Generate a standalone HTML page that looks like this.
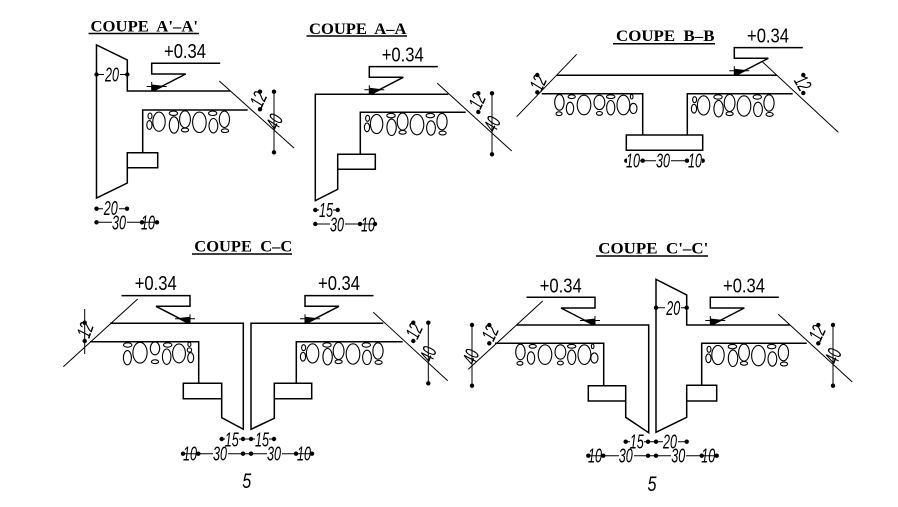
<!DOCTYPE html>
<html><head><meta charset="utf-8"><title>Coupes</title>
<style>
html,body{margin:0;padding:0;background:#fff}
svg{display:block}
.m{fill:none;stroke:#000;stroke-width:1.5}
.s{fill:none;stroke:#000;stroke-width:1}
.b ellipse{fill:none;stroke:#000;stroke-width:1.1}
.t{font:bold 16px "Liberation Serif",serif;fill:#000}
.l{font:20px "Liberation Sans",sans-serif;fill:#000;text-anchor:middle}
.d{font:italic 20px "Liberation Sans",sans-serif;fill:#000;text-anchor:middle}
.f{font:italic 21px "Liberation Sans",sans-serif;fill:#000;text-anchor:middle}
</style></head><body>
<svg width="898" height="507" viewBox="0 0 898 507" xmlns="http://www.w3.org/2000/svg">
<defs>
<g id="L"><path class="m" d="M68.5,-27.7H0V-17H34L3,-1"/><path d="M0,-6.5L13,-5L3,0H0Z" fill="#000"/><path class="s" d="M-5,-4.5H15M0,-9V0"/></g>
<g id="R" class="b">
<ellipse cx="7.3" cy="6" rx="2" ry="3"/><ellipse cx="6.7" cy="15" rx="2.6" ry="4.4"/><ellipse cx="16.3" cy="11.7" rx="6.2" ry="9.6"/><ellipse cx="30.7" cy="3.3" rx="4.2" ry="2.2"/><ellipse cx="31.3" cy="15" rx="4.7" ry="8.2"/><ellipse cx="42.3" cy="9.3" rx="5.4" ry="8.5"/><ellipse cx="42.3" cy="20" rx="3.6" ry="1.9"/><ellipse cx="56.7" cy="12.3" rx="6.8" ry="10.2"/><ellipse cx="70" cy="3.3" rx="4.2" ry="2.2"/><ellipse cx="70.7" cy="15.7" rx="4.4" ry="7.2"/><ellipse cx="81.7" cy="9.3" rx="5.1" ry="8.2"/><ellipse cx="82.3" cy="20.7" rx="3.6" ry="1.9"/>
</g>
<g id="B" class="b">
<ellipse cx="83.3" cy="8.7" rx="4.7" ry="7.8"/><ellipse cx="83.7" cy="20" rx="3" ry="1.9"/><ellipse cx="71" cy="3" rx="3.6" ry="1.9"/><ellipse cx="72.7" cy="14.7" rx="3.7" ry="6.2"/><ellipse cx="58.7" cy="11.3" rx="6.8" ry="9.8"/><ellipse cx="43.3" cy="8.7" rx="5.4" ry="7.2"/><ellipse cx="43.3" cy="19.7" rx="3" ry="1.9"/><ellipse cx="32" cy="3" rx="4.2" ry="1.9"/><ellipse cx="32" cy="14" rx="4.1" ry="7.2"/><ellipse cx="19.3" cy="11.3" rx="6.4" ry="9.8"/><ellipse cx="11" cy="3" rx="1.3" ry="2.3"/><ellipse cx="9.3" cy="14.7" rx="3.6" ry="5.1"/>
</g>
<g id="C" class="b">
<ellipse cx="71" cy="3.3" rx="4.2" ry="2.2"/><ellipse cx="71.3" cy="16" rx="4" ry="7.1"/><ellipse cx="58.7" cy="11" rx="7.1" ry="10.4"/><ellipse cx="43.7" cy="6.7" rx="4.7" ry="6.4"/><ellipse cx="43.7" cy="20" rx="3.6" ry="1.9"/><ellipse cx="31" cy="3.3" rx="4.2" ry="2.2"/><ellipse cx="32" cy="15" rx="4.3" ry="7.7"/><ellipse cx="19.7" cy="11.7" rx="6.4" ry="9.5"/><ellipse cx="9.3" cy="2.7" rx="1.5" ry="2.2"/><ellipse cx="9.3" cy="8.3" rx="2.2" ry="2.2"/><ellipse cx="8" cy="16" rx="3" ry="5"/>
</g>
</defs>

<!-- A'-A' -->
<text class="t" x="90.5" y="31.3" textLength="107.5" lengthAdjust="spacingAndGlyphs" xml:space="preserve">COUPE  A'–A'</text>
<path class="m" d="M88.5,33.5H199"/>
<path class="m" d="M230,91H127.3V60L96.5,45V198L127.3,183V152.7H157.7V167.7H127.3M142.7,152.7V110H247.7"/>
<path class="s" d="M219.3,81L294,148"/>
<use href="#L" x="151.7" y="91"/><use href="#R" x="142.7" y="110"/>
<text class="l" x="185" y="58" textLength="42" lengthAdjust="spacingAndGlyphs">+0.34</text>
<path class="s" d="M96.5,74.5H127.3M274,91.7V152.3M96.5,208.7H127M96.5,222.3H157"/>
<g fill="#000"><circle cx="96.5" cy="74.5" r="2.2"/><circle cx="127.3" cy="74.5" r="2.2"/><circle cx="260" cy="91.7" r="2.2"/><circle cx="260" cy="109.3" r="2.2"/><circle cx="274" cy="91.7" r="2.2"/><circle cx="274" cy="152.3" r="2.2"/><circle cx="96.5" cy="208.7" r="2.2"/><circle cx="127" cy="208.7" r="2.2"/><circle cx="96.5" cy="222.3" r="2.2"/><circle cx="142" cy="222.3" r="2.2"/><circle cx="157" cy="222.3" r="2.2"/></g>
<rect x="104" y="66" width="16" height="16" fill="#fff"/><text class="d" x="112" y="81.7" textLength="14" lengthAdjust="spacingAndGlyphs">20</text>
<rect x="103" y="201" width="16" height="14" fill="#fff"/><text class="d" x="110.7" y="215" textLength="14" lengthAdjust="spacingAndGlyphs">20</text>
<rect x="112" y="216" width="15" height="12" fill="#fff"/><text class="d" x="119" y="229.5" textLength="14" lengthAdjust="spacingAndGlyphs">30</text>
<text class="d" x="148" y="229.5" textLength="14" lengthAdjust="spacingAndGlyphs">10</text>
<text class="d" transform="translate(258.3,99.3) rotate(-65)" y="7" textLength="14" lengthAdjust="spacingAndGlyphs">12</text>
<text class="d" transform="translate(274.3,121.7) rotate(-65)" y="7" textLength="14" lengthAdjust="spacingAndGlyphs">40</text>

<!-- A-A -->
<text class="t" x="309" y="34" textLength="97.5" lengthAdjust="spacingAndGlyphs" xml:space="preserve">COUPE  A–A</text>
<path class="m" d="M306.5,36H407"/>
<path class="m" d="M448.3,94.3H315.3V200.7L337.7,189.3V154.3H375.3V169.3H337.7M360.3,154.3V112.3H465.7"/>
<path class="s" d="M437.3,83.3L511.7,151"/>
<use href="#L" x="369.3" y="94.3"/><use href="#R" x="360.3" y="112.3"/>
<text class="l" x="402.7" y="61.7" textLength="42" lengthAdjust="spacingAndGlyphs">+0.34</text>
<path class="s" d="M492,93.3V154.3M315.3,210H337.7M315.3,224H375"/>
<g fill="#000"><circle cx="478.3" cy="93.3" r="2.2"/><circle cx="478.3" cy="112" r="2.2"/><circle cx="492" cy="93.3" r="2.2"/><circle cx="492" cy="154.3" r="2.2"/><circle cx="315.3" cy="210" r="2.2"/><circle cx="337.7" cy="210" r="2.2"/><circle cx="315.3" cy="224" r="2.2"/><circle cx="360" cy="224" r="2.2"/><circle cx="375" cy="224" r="2.2"/></g>
<rect x="319" y="203" width="14" height="14" fill="#fff"/><text class="d" x="326" y="217" textLength="14" lengthAdjust="spacingAndGlyphs">15</text>
<rect x="330" y="218" width="15" height="12" fill="#fff"/><text class="d" x="337" y="231.5" textLength="14" lengthAdjust="spacingAndGlyphs">30</text>
<text class="d" x="368" y="231.5" textLength="14" lengthAdjust="spacingAndGlyphs">10</text>
<text class="d" transform="translate(477,101) rotate(-65)" y="7" textLength="14" lengthAdjust="spacingAndGlyphs">12</text>
<text class="d" transform="translate(492,124) rotate(-65)" y="7" textLength="14" lengthAdjust="spacingAndGlyphs">40</text>

<!-- B-B -->
<text class="t" x="616" y="41" textLength="98.5" lengthAdjust="spacingAndGlyphs" xml:space="preserve">COUPE  B–B</text>
<path class="m" d="M613,43.7H715"/>
<path class="m" d="M556.7,75.3H776.7M541.7,93.7H642.7V135M687.3,135V93.7H792.7M626.3,135H702.7V150.3H626.3Z"/>
<path class="s" d="M576.7,54.3L516.7,116.7M762.3,61.7L838.3,132.3"/>
<use href="#L" x="734.3" y="75.3"/><use href="#R" x="687.3" y="93.7"/><use href="#B" transform="translate(642.7,93.7) scale(-1,1)"/>
<text class="l" x="768" y="42.3" textLength="42" lengthAdjust="spacingAndGlyphs">+0.34</text>
<path class="s" d="M626.3,160.7H702.7"/>
<g fill="#000"><circle cx="537.3" cy="75" r="2.2"/><circle cx="537.3" cy="92.3" r="2.2"/><circle cx="803.3" cy="75" r="2.2"/><circle cx="803.3" cy="93" r="2.2"/><circle cx="626.3" cy="160.7" r="2.2"/><circle cx="642.7" cy="160.7" r="2.2"/><circle cx="687" cy="160.7" r="2.2"/><circle cx="702.7" cy="160.7" r="2.2"/></g>
<rect x="627" y="154" width="13" height="13" fill="#fff"/><text class="d" x="633" y="167.5" textLength="14" lengthAdjust="spacingAndGlyphs">10</text>
<rect x="656" y="154" width="15" height="13" fill="#fff"/><text class="d" x="663" y="167.5" textLength="14" lengthAdjust="spacingAndGlyphs">30</text>
<rect x="689" y="154" width="13" height="13" fill="#fff"/><text class="d" x="695" y="167.5" textLength="14" lengthAdjust="spacingAndGlyphs">10</text>
<text class="d" transform="translate(538,83) rotate(-65)" y="7" textLength="14" lengthAdjust="spacingAndGlyphs">12</text>
<text class="d" transform="translate(803,83) rotate(60)" y="7" textLength="14" lengthAdjust="spacingAndGlyphs">12</text>

<!-- C-C -->
<text class="t" x="194.3" y="251.7" textLength="98" lengthAdjust="spacingAndGlyphs" xml:space="preserve">COUPE  C–C</text>
<path class="m" d="M192,254H292"/>
<path class="m" d="M110,323.3H243.3V429.3L221.7,417.7V383.3H183.3V398.7H221.7M198.7,383.3V341.7H90"/>
<path class="m" d="M383.3,323.3H251V429.3L274.3,418.3V383.3H311.7V398.7H274.3M296.3,383.3V341.7H402.7"/>
<path class="s" d="M137.7,299L63.3,366.7M373.3,312.3L447.7,380.7M84.7,309V354"/>
<use href="#L" transform="translate(190,323.3) scale(-1,1)"/><use href="#L" x="305" y="323.3"/>
<use href="#C" transform="translate(198.7,341.7) scale(-1,1)"/><use href="#R" x="296.3" y="341.7"/>
<text class="l" x="155.7" y="290" textLength="42" lengthAdjust="spacingAndGlyphs">+0.34</text>
<text class="l" x="339" y="290" textLength="42" lengthAdjust="spacingAndGlyphs">+0.34</text>
<path class="s" d="M221.7,439H274M183,453.7H312M428.3,322.7V383.3"/>
<g fill="#000"><circle cx="84.7" cy="322.7" r="2.2"/><circle cx="84.7" cy="341" r="2.2"/><circle cx="413.3" cy="322.7" r="2.2"/><circle cx="413.3" cy="341" r="2.2"/><circle cx="428.3" cy="322.7" r="2.2"/><circle cx="428.3" cy="383.3" r="2.2"/><circle cx="221.7" cy="439" r="2.2"/><circle cx="243" cy="439" r="2.2"/><circle cx="251" cy="439" r="2.2"/><circle cx="274" cy="439" r="2.2"/><circle cx="183" cy="453.7" r="2.2"/><circle cx="198.3" cy="453.7" r="2.2"/><circle cx="243" cy="453.7" r="2.2"/><circle cx="251" cy="453.7" r="2.2"/><circle cx="296" cy="453.7" r="2.2"/><circle cx="312" cy="453.7" r="2.2"/></g>
<rect x="225" y="432" width="14" height="14" fill="#fff"/><text class="d" x="231.7" y="446.5" textLength="14" lengthAdjust="spacingAndGlyphs">15</text>
<rect x="255" y="432" width="14" height="14" fill="#fff"/><text class="d" x="262" y="446.5" textLength="14" lengthAdjust="spacingAndGlyphs">15</text>
<text class="d" x="190" y="460.5" textLength="14" lengthAdjust="spacingAndGlyphs">10</text>
<rect x="213" y="447" width="15" height="13" fill="#fff"/><text class="d" x="220" y="460.5" textLength="14" lengthAdjust="spacingAndGlyphs">30</text>
<rect x="267" y="447" width="15" height="13" fill="#fff"/><text class="d" x="274" y="460.5" textLength="14" lengthAdjust="spacingAndGlyphs">30</text>
<text class="d" x="304" y="460.5" textLength="14" lengthAdjust="spacingAndGlyphs">10</text>
<text class="f" x="246.7" y="488" textLength="9" lengthAdjust="spacingAndGlyphs">5</text>
<text class="d" transform="translate(85,330) rotate(-70)" y="7" textLength="14" lengthAdjust="spacingAndGlyphs">12</text>
<text class="d" transform="translate(414,331) rotate(-65)" y="7" textLength="14" lengthAdjust="spacingAndGlyphs">12</text>
<text class="d" transform="translate(428,354) rotate(-70)" y="7" textLength="14" lengthAdjust="spacingAndGlyphs">40</text>

<!-- C'-C' -->
<text class="t" x="598.3" y="253.3" textLength="110" lengthAdjust="spacingAndGlyphs" xml:space="preserve">COUPE  C'–C'</text>
<path class="m" d="M596,256H708"/>
<path class="m" d="M516.7,325H648.7V432.7L625.7,417.3V385.7H588.3V401H625.7M603.7,385.7V343.3H495"/>
<path class="m" d="M790,325H686.7V295L656,279.3V432.3L686.7,417.3V385.3H716.7V401H686.7M701.7,385.3V343.3H806.7"/>
<path class="s" d="M542.7,301L468.3,369.3M778.3,314.3L852.3,382"/>
<use href="#L" transform="translate(595,325) scale(-1,1)"/><use href="#L" x="710.3" y="325"/>
<use href="#B" transform="translate(603.7,343.3) scale(-1,1)"/><use href="#R" x="701.7" y="343.3"/>
<text class="l" x="560.7" y="292.3" textLength="42" lengthAdjust="spacingAndGlyphs">+0.34</text>
<text class="l" x="744" y="292.3" textLength="42" lengthAdjust="spacingAndGlyphs">+0.34</text>
<path class="s" d="M472,325V385.7M833,325V385.7M656,307.7H686.7M625.7,441.7H686.7M588.3,455.7H716.7"/>
<g fill="#000"><circle cx="489.3" cy="325" r="2.2"/><circle cx="489.3" cy="343.3" r="2.2"/><circle cx="472" cy="325" r="2.2"/><circle cx="472" cy="385.7" r="2.2"/><circle cx="818.3" cy="325" r="2.2"/><circle cx="818.3" cy="343.3" r="2.2"/><circle cx="833" cy="325" r="2.2"/><circle cx="833" cy="385.7" r="2.2"/><circle cx="656" cy="307.7" r="2.2"/><circle cx="686.7" cy="307.7" r="2.2"/><circle cx="625.7" cy="441.7" r="2.2"/><circle cx="648" cy="441.7" r="2.2"/><circle cx="656" cy="441.7" r="2.2"/><circle cx="686.7" cy="441.7" r="2.2"/><circle cx="588.3" cy="455.7" r="2.2"/><circle cx="603.3" cy="455.7" r="2.2"/><circle cx="648" cy="455.7" r="2.2"/><circle cx="656" cy="455.7" r="2.2"/><circle cx="701.7" cy="455.7" r="2.2"/><circle cx="716.7" cy="455.7" r="2.2"/></g>
<rect x="665" y="300" width="16" height="15" fill="#fff"/><text class="d" x="673.3" y="315" textLength="14" lengthAdjust="spacingAndGlyphs">20</text>
<rect x="630" y="434" width="14" height="14" fill="#fff"/><text class="d" x="636.7" y="448.5" textLength="14" lengthAdjust="spacingAndGlyphs">15</text>
<rect x="663" y="434" width="15" height="14" fill="#fff"/><text class="d" x="670" y="448.5" textLength="14" lengthAdjust="spacingAndGlyphs">20</text>
<text class="d" x="595" y="462.5" textLength="14" lengthAdjust="spacingAndGlyphs">10</text>
<rect x="619" y="449" width="15" height="13" fill="#fff"/><text class="d" x="625.7" y="462.5" textLength="14" lengthAdjust="spacingAndGlyphs">30</text>
<rect x="671" y="449" width="15" height="13" fill="#fff"/><text class="d" x="678.3" y="462.5" textLength="14" lengthAdjust="spacingAndGlyphs">30</text>
<text class="d" x="708.3" y="462.5" textLength="14" lengthAdjust="spacingAndGlyphs">10</text>
<text class="f" x="652" y="491" textLength="9" lengthAdjust="spacingAndGlyphs">5</text>
<text class="d" transform="translate(490,333) rotate(-65)" y="7" textLength="14" lengthAdjust="spacingAndGlyphs">12</text>
<text class="d" transform="translate(470.7,356.7) rotate(-70)" y="7" textLength="14" lengthAdjust="spacingAndGlyphs">40</text>
<text class="d" transform="translate(817,333) rotate(-65)" y="7" textLength="14" lengthAdjust="spacingAndGlyphs">12</text>
<text class="d" transform="translate(833,356) rotate(-70)" y="7" textLength="14" lengthAdjust="spacingAndGlyphs">40</text>
</svg>
</body></html>
